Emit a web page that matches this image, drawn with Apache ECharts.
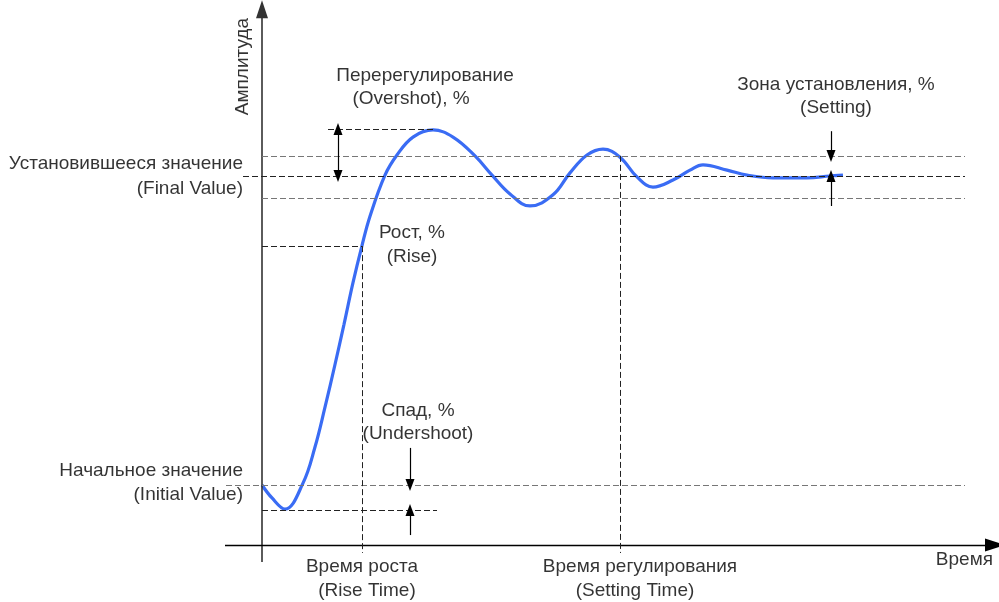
<!DOCTYPE html>
<html>
<head>
<meta charset="utf-8">
<script src="https://cdn.jsdelivr.net/npm/echarts@6/dist/echarts.min.js"></script>
<style>
  html, body { margin: 0; padding: 0; background: #fff; }
  #chart { width: 999px; height: 602px; }
</style>
</head>
<body>
<div id="chart"></div>
<script>
// step response curve (time, amplitude)
const curveTime = [0, 0.10, 0.23, 0.41, 0.53, 0.63, 0.73, 0.82, 0.91, 1.00, 1.08, 1.23, 1.35, 1.51, 1.71, 1.91, 2.13, 2.30, 2.48, 2.68, 2.91, 3.08, 3.25, 3.41, 3.58, 3.75, 3.91, 4.11, 4.28, 4.41, 4.65, 4.85, 5.11, 5.45, 5.68, 5.81]
const curveAmp = [0, -0.042, -0.078, 0.006, 0.123, 0.252, 0.39, 0.52, 0.655, 0.775, 0.87, 1.003, 1.068, 1.126, 1.149, 1.126, 1.065, 1.003, 0.942, 0.903, 0.939, 1.010, 1.068, 1.087, 1.061, 0.997, 0.964, 0.987, 1.019, 1.036, 1.019, 1.003, 0.994, 0.994, 1.0, 1.003]

// characteristic levels
const initialValue = 0
const finalValue = 1
const overshootPeak = 1.152
const undershootMin = -0.081
const bandUpper = 1.065
const bandLower = 0.929
const riseLevel = 0.773
const riseTime = 1.0
const settleTime = 3.58
const guideEnd = 7.03

// text annotations
const labelText = [
  'Перерегулирование', '(Overshot), %',
  'Зона установления, %', '(Setting)',
  'Установившееся значение', '(Final Value)',
  'Рост, %', '(Rise)',
  'Спад, %', '(Undershoot)',
  'Начальное значение', '(Initial Value)',
  'Время роста', '(Rise Time)',
  'Время регулирования', '(Setting Time)',
  'Время'
]
const labelTime = [1.63, 1.49, 5.74, 5.74, -0.19, -0.19, 1.50, 1.50, 1.56, 1.56, -0.19, -0.19, 1.00, 1.05, 3.78, 3.73, 7.31]
const labelAmp = [1.324, 1.249, 1.294, 1.220, 1.039, 0.958, 0.816, 0.738, 0.239, 0.165, 0.045, -0.032, -0.265, -0.343, -0.265, -0.343, -0.243]
const labelAlign = ['center', 'center', 'center', 'center', 'right', 'right', 'center', 'center', 'center', 'center', 'right', 'right', 'center', 'center', 'center', 'center', 'right']

const font = "'Liberation Sans', Arial, sans-serif"
const dark = { color: '#222', width: 1, type: [6, 3] }
const grey = { color: '#777', width: 1, type: [6, 3] }
const solid = { color: '#000', width: 1.2, type: 'solid' }
const tri = [9, 12]

function seg (p1, p2, style, s1, s2) {
  return [
    { coord: p1, lineStyle: style, symbol: s1 || 'none', symbolSize: tri },
    { coord: p2, symbol: s2 || 'none', symbolSize: tri }
  ]
}

const guides = [
  // axes
  [{ coord: [0, -0.249], lineStyle: { color: '#333', width: 1.6, type: 'solid' }, symbol: 'none' },
   { coord: [0, 1.54], symbol: 'triangle', symbolSize: [12, 18] }],
  [{ coord: [-0.37, -0.194], lineStyle: { color: '#000', width: 1.4, type: 'solid' }, symbol: 'none' },
   { coord: [7.33, -0.194], symbol: 'triangle', symbolSize: [13, 20] }],
  // horizontal levels
  seg([0.66, overshootPeak], [1.73, overshootPeak], dark),
  seg([0, bandUpper], [guideEnd, bandUpper], grey),
  seg([-0.19, finalValue], [guideEnd, finalValue], dark),
  seg([0, bandLower], [guideEnd, bandLower], grey),
  seg([0, riseLevel], [riseTime, riseLevel], dark),
  seg([-0.36, initialValue], [guideEnd, initialValue], grey),
  seg([0, undershootMin], [1.75, undershootMin], dark),
  // vertical time markers
  seg([riseTime, riseLevel], [riseTime, -0.22], dark),
  seg([settleTime, bandUpper], [settleTime, -0.22], dark),
  // dimension arrows
  seg([0.76, finalValue], [0.76, overshootPeak], solid, 'triangle', 'triangle'),
  seg([1.48, 0.12], [1.48, initialValue], solid, 'none', 'triangle'),
  seg([1.48, -0.162], [1.48, undershootMin], solid, 'none', 'triangle'),
  seg([5.69, 1.145], [5.69, bandUpper], solid, 'none', 'triangle'),
  seg([5.69, 0.903], [5.69, finalValue], solid, 'none', 'triangle')
]

const chart = echarts.init(document.getElementById('chart'))
const option = {
  animation: false,
  backgroundColor: '#fff',
  grid: { left: 222, top: 6.05, width: 780, height: 602.55, containLabel: false, outerBoundsMode: 'none' },
  xAxis: { type: 'value', min: -0.4, max: 7.4, show: false },
  yAxis: { type: 'value', min: -0.4, max: 1.55, show: false },
  series: [
    {
      name: 'guides',
      type: 'line',
      data: [],
      z: 1,
      markLine: {
        silent: true,
        animation: false,
        label: { show: false },
        emphasis: { disabled: true },
        data: guides
      }
    },
    {
      name: 'response',
      type: 'line',
      z: 3,
      smooth: 0.4,
      symbol: 'none',
      lineStyle: { color: '#3a6cf4', width: 3.2 },
      data: curveTime.map((t, i) => [t, curveAmp[i]])
    },
    {
      name: 'labels',
      type: 'scatter',
      z: 4,
      symbolSize: 0,
      clip: false,
      silent: true,
      data: labelText.map((s, i) => ({
        value: [labelTime[i], labelAmp[i]],
        label: { align: labelAlign[i] }
      })),
      label: {
        show: true,
        position: 'inside',
        color: '#000',
        fontSize: 19,
        fontFamily: font,
        formatter: p => labelText[p.dataIndex]
      }
    },
    {
      name: 'axisTitle',
      type: 'scatter',
      z: 4,
      symbolSize: 0,
      silent: true,
      data: [[-0.19, 1.354]],
      label: {
        show: true,
        position: 'inside',
        rotate: 90,
        color: '#000',
        fontSize: 19,
        fontFamily: font,
        formatter: 'Амплитуда'
      }
    }
  ]
}
chart.setOption(option)
</script>
</body>
</html>
